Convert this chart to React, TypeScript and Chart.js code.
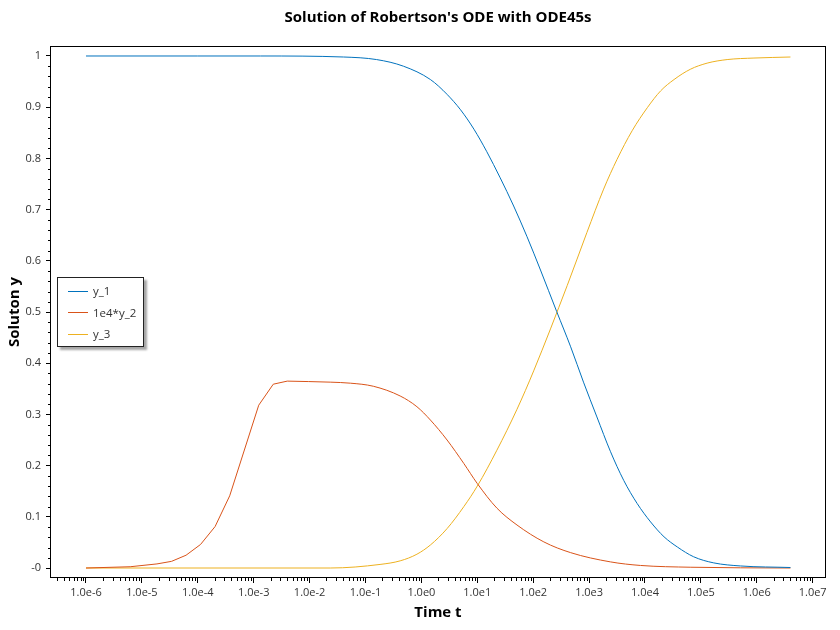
import React, { useEffect, useRef } from 'react';
import { Chart, registerables } from 'chart.js';

Chart.register(...registerables);

const chartTitle = "Solution of Robertson's ODE with ODE45s";
const xAxisTitle = 'Time t';
const yAxisTitle = 'Soluton y';
const seriesLabels = ['y_1', '1e4*y_2', 'y_3'];
const seriesColors = ['#0072BD', '#D95319', '#EDB120'];

const y1Times = [1e-6, 1e-4, 1.32e-3, 4.07e-2, 0.158, 0.479, 1.45, 2.88, 5.01, 8.71, 14.8, 25.7, 44.7, 77.6, 135, 263, 468, 794, 1380, 2400, 4170, 7240, 12600, 21900, 38000, 74100, 170000, 513000, 4e6];
const y1Values = [1.0, 1.0, 1.0, 0.998, 0.993, 0.98, 0.954, 0.925, 0.895, 0.857, 0.813, 0.762, 0.707, 0.647, 0.582, 0.501, 0.432, 0.363, 0.295, 0.228, 0.171, 0.126, 0.09, 0.061, 0.041, 0.022, 0.01, 0.004, 0.001];

const y2Times = [1e-6, 6.17e-6, 1.86e-5, 3.39e-5, 6.17e-5, 1.12e-4, 2.04e-4, 3.72e-4, 1.23e-3, 2.24e-3, 3.98e-3, 2.34e-2, 5.37e-2, 0.138, 0.417, 0.832, 1.45, 2.88, 5.75, 10, 22.4, 51.3, 155, 468, 2400, 8320, 66100, 4e6];
const y2Values = [0, 0.0025, 0.008, 0.013, 0.025, 0.046, 0.081, 0.141, 0.318, 0.359, 0.365, 0.363, 0.361, 0.355, 0.336, 0.315, 0.289, 0.25, 0.204, 0.165, 0.117, 0.084, 0.051, 0.03, 0.012, 0.005, 0.0015, 0.0];
// index where the solver's coarse early steps (drawn straight) give way to the smooth part
const y2SmoothFrom = 10;

const y3Times = [1e-6, 2.34e-2, 0.182, 0.417, 0.832, 1.45, 2.88, 5.75, 10, 22.4, 51.3, 102, 407, 912, 1820, 3160, 5890, 11000, 19100, 33100, 64600, 129000, 295000, 891000, 4e6];
const y3Values = [0, 0.0, 0.007, 0.014, 0.027, 0.045, 0.077, 0.12, 0.16, 0.23, 0.31, 0.385, 0.552, 0.655, 0.74, 0.798, 0.854, 0.899, 0.932, 0.954, 0.974, 0.986, 0.993, 0.996, 0.998];

const xTickValues = [1e-6, 1e-5, 1e-4, 1e-3, 1e-2, 1e-1, 1e0, 1e1, 1e2, 1e3, 1e4, 1e5, 1e6, 1e7];
const xTickLabels = ['1.0e-6', '1.0e-5', '1.0e-4', '1.0e-3', '1.0e-2', '1.0e-1', '1.0e0', '1.0e1', '1.0e2', '1.0e3', '1.0e4', '1.0e5', '1.0e6', '1.0e7'];
const yTickValues = [0, 0.1, 0.2, 0.3, 0.4, 0.5, 0.6, 0.7, 0.8, 0.9, 1];
const yTickLabels = ['-0', '0.1', '0.2', '0.3', '0.4', '0.5', '0.6', '0.7', '0.8', '0.9', '1'];

const xMin = 2.27e-7;
const xMax = 1.73e7;
const yMin = -0.0195;
const yMax = 1.0195;

const FONT = "'Open Sans', 'Noto Sans', sans-serif";

const framePlugin = {
  id: 'frameAndMinor',
  afterDraw(chart: any) {
    const { ctx, chartArea: a, scales } = chart;
    const x = scales.x;
    const y = scales.y;
    ctx.save();
    ctx.strokeStyle = '#000';
    ctx.lineWidth = 1;
    ctx.beginPath();
    for (let e = -8; e <= 8; e++) {
      for (let m = 2; m <= 9; m++) {
        const v = m * Math.pow(10, e);
        if (v < xMin || v > xMax) continue;
        const px = Math.round(x.getPixelForValue(v)) + 0.5;
        ctx.moveTo(px, a.bottom);
        ctx.lineTo(px, a.bottom + 3);
      }
    }
    for (let i = -2; i <= 52; i++) {
      if (i % 5 === 0) continue;
      const v = i * 0.02;
      if (v < yMin || v > yMax) continue;
      const py = Math.round(y.getPixelForValue(v)) + 0.5;
      ctx.moveTo(a.left - 2, py);
      ctx.lineTo(a.left, py);
    }
    ctx.stroke();
    ctx.strokeRect(Math.round(a.left) + 0.5, Math.round(a.top) + 0.5, Math.round(a.right - a.left) - 1, Math.round(a.bottom - a.top) - 1);
    ctx.restore();
  },
};

function makeData(times: number[], values: number[]) {
  return times.map((t, i) => ({ x: t, y: values[i] }));
}

export default function App() {
  const canvasRef = useRef<HTMLCanvasElement | null>(null);

  useEffect(() => {
    const canvas = canvasRef.current;
    if (!canvas) return;
    const y2Data = makeData(y2Times, y2Values);
    const chart = new Chart(canvas, {
      type: 'line',
      data: {
        datasets: [
          {
            label: seriesLabels[0],
            data: makeData(y1Times, y1Values),
            borderColor: seriesColors[0],
            backgroundColor: seriesColors[0],
            borderWidth: 1,
            pointRadius: 0,
            cubicInterpolationMode: 'monotone',
          },
          {
            label: seriesLabels[1],
            data: y2Data.slice(0, y2SmoothFrom + 1),
            borderColor: seriesColors[1],
            backgroundColor: seriesColors[1],
            borderWidth: 1,
            pointRadius: 0,
            tension: 0,
          },
          {
            label: seriesLabels[1],
            data: y2Data.slice(y2SmoothFrom),
            borderColor: seriesColors[1],
            backgroundColor: seriesColors[1],
            borderWidth: 1,
            pointRadius: 0,
            cubicInterpolationMode: 'monotone',
          },
          {
            label: seriesLabels[2],
            data: makeData(y3Times, y3Values),
            borderColor: seriesColors[2],
            backgroundColor: seriesColors[2],
            borderWidth: 1,
            pointRadius: 0,
            cubicInterpolationMode: 'monotone',
          },
        ],
      },
      plugins: [framePlugin],
      options: {
        animation: false,
        responsive: false,
        devicePixelRatio: 1,
        layout: { padding: { left: 0, right: 14, top: 0, bottom: 0 } },
        plugins: {
          legend: { display: false },
          tooltip: { enabled: false },
          title: {
            display: true,
            text: chartTitle,
            fullSize: false,
            color: '#000',
            font: { family: FONT, size: 15, weight: 'bold' },
            padding: { top: 9, bottom: 19 },
          },
        },
        scales: {
          x: {
            type: 'logarithmic',
            min: xMin,
            max: xMax,
            afterBuildTicks: (s: any) => {
              s.ticks = xTickValues.map((v) => ({ value: v }));
            },
            afterFit: (s: any) => {
              s.height = 52;
            },
            ticks: {
              autoSkip: false,
              maxRotation: 0,
              minRotation: 0,
              padding: 3,
              color: '#333',
              font: { family: FONT, size: 11 },
              callback: (_v: any, i: number) => xTickLabels[i],
            },
            grid: { display: true, drawOnChartArea: false, drawTicks: true, tickLength: 5, color: '#000' },
            border: { display: false },
            title: {
              display: true,
              text: xAxisTitle,
              color: '#000',
              font: { family: FONT, size: 15, weight: 'bold' },
              padding: { top: 0, bottom: 8 },
            },
          },
          y: {
            type: 'linear',
            min: yMin,
            max: yMax,
            afterBuildTicks: (s: any) => {
              s.ticks = yTickValues.map((v) => ({ value: v }));
            },
            afterFit: (s: any) => {
              s.width = 50;
            },
            ticks: {
              autoSkip: false,
              padding: 5,
              color: '#333',
              font: { family: FONT, size: 11 },
              callback: (_v: any, i: number) => yTickLabels[i],
            },
            grid: { display: true, drawOnChartArea: false, drawTicks: true, tickLength: 4, color: '#000' },
            border: { display: false },
            title: {
              display: true,
              text: yAxisTitle,
              color: '#000',
              font: { family: FONT, size: 15, weight: 'bold' },
              padding: { top: 6, bottom: 0 },
            },
          },
        },
      } as any,
    });
    return () => chart.destroy();
  }, []);

  return (
    <div style={{ position: 'fixed', left: 0, top: 0, width: 840, height: 630, background: '#fff' }}>
      <canvas ref={canvasRef} width={840} height={630} style={{ display: 'block', width: 840, height: 630 }} />
      <div
        style={{
          position: 'absolute',
          left: 57,
          top: 277,
          width: 85,
          height: 68,
          border: '1px solid #222',
          background: '#fff',
          boxShadow: '3px 3px 2px rgba(0,0,0,0.35)',
          fontFamily: FONT,
          fontSize: 11.5,
          color: '#333',
        }}
      >
        {seriesLabels.map((label, i) => (
          <div key={label} style={{ position: 'absolute', left: 10, top: 5 + i * 21.6, height: 16, display: 'flex', alignItems: 'center' }}>
            <span style={{ display: 'inline-block', width: 20, height: 1, background: seriesColors[i], marginRight: 5 }} />
            <span style={{ lineHeight: '16px' }}>{label}</span>
          </div>
        ))}
      </div>
    </div>
  );
}
